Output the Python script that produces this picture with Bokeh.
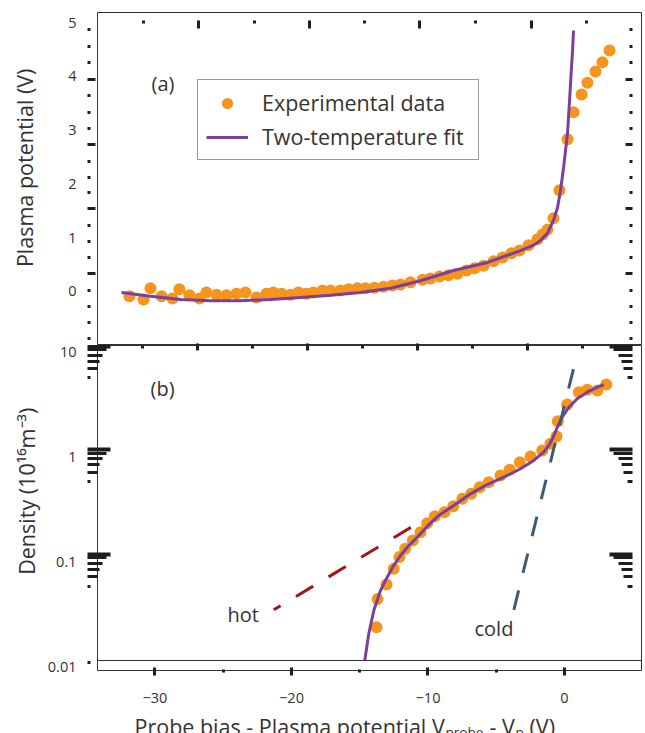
from bokeh.plotting import figure
from bokeh.layouts import column
from bokeh.models import (Range1d, LinearScale, LinearAxis, LogAxis, FixedTicker,
                          Legend, LegendItem, Label, Span, CustomJSTickFormatter)
from bokeh.core.properties import value
from bokeh.embed import file_html
from bokeh.resources import INLINE

FONT = "Open Sans"
ORANGE = "#F7941D"
PURPLE = "#7B3F9E"
HOT = "#A3151B"
COLD = "#3E5A74"
INK = "#1e1e1e"
TEXT = "#333333"
FRAME = "#333333"
TITLE_SIZE = "21.5px"
NBSP = "\u00a0"

# ---------------- data : panel (a)
exp_a_x = [-31.87, -30.84, -30.33, -29.52, -28.72, -28.21, -27.47, -26.74, -26.23, -25.49,
           -24.76, -24.03, -23.37, -22.56, -21.83, -21.32, -20.73, -20.07, -19.49, -18.90,
           -18.39, -17.73, -17.14, -16.41, -15.82, -15.16, -14.58, -13.92, -13.26, -12.60,
           -12.01, -11.28,
           -10.40, -9.82, -9.16, -8.50, -7.84, -7.18, -6.59, -5.93, -5.20, -4.54,
           -3.88, -3.30, -2.64, -1.98, -1.61, -1.25, -0.81, -0.37, 0.22, 0.66,
           1.25, 1.68, 2.27, 2.78, 3.30]
exp_a_y = [-0.09, -0.15, 0.06, -0.09, -0.13, 0.04, -0.07, -0.13, -0.02, -0.06,
           -0.07, -0.04, -0.02, -0.11, -0.04, -0.02, -0.04, -0.06, -0.02, -0.04,
           -0.02, 0.02, 0.02, 0.02, 0.04, 0.06, 0.06, 0.07, 0.09, 0.11,
           0.13, 0.17,
           0.22, 0.24, 0.28, 0.30, 0.33, 0.39, 0.43, 0.48, 0.56, 0.63,
           0.71, 0.76, 0.86, 0.97, 1.06, 1.15, 1.36, 1.88, 2.83, 3.33,
           3.66, 3.88, 4.09, 4.26, 4.48]
fit_a_x = [-32.45, -30.33, -28.13, -25.93, -23.74, -21.54, -19.34, -17.14, -14.95, -12.75,
           -10.55, -8.13, -5.64, -3.22, -2.27, -1.76, -1.25, -0.81, -0.51, -0.29,
           -0.07, 0.22, 0.37, 0.51, 0.59, 0.66]
fit_a_y = [-0.02, -0.09, -0.15, -0.17, -0.17, -0.15, -0.11, -0.07, -0.02, 0.06,
           0.20, 0.39, 0.54, 0.76, 0.86, 0.95, 1.08, 1.32, 1.56, 1.88,
           2.30, 2.94, 3.55, 4.16, 4.48, 4.85]

# ---------------- data : panel (b)
exp_b_x = [-13.77, -13.70, -13.04, -12.51, -12.09, -11.67, -11.11, -10.55, -10.06, -9.50,
           -8.79, -8.15, -7.49, -6.84, -6.21, -5.55, -4.69, -4.01, -3.27, -2.49,
           -1.63, -1.03, -0.59, -0.49, 0.20, 1.05, 1.66, 2.40, 3.06]
exp_b_y = [0.024, 0.0445, 0.0614, 0.0865, 0.112, 0.134, 0.161, 0.193, 0.235, 0.274,
           0.299, 0.341, 0.402, 0.448, 0.518, 0.578, 0.670, 0.759, 0.896, 1.016,
           1.159, 1.342, 1.575, 2.20, 3.18, 4.16, 4.38, 4.32, 4.92]
fit_b_x = [-14.63, -14.34, -13.97, -13.48, -12.99, -12.51, -12.01, -11.52, -10.79, -10.06,
           -9.21, -8.11, -6.89, -5.66, -4.45, -3.22, -2.25, -1.52, -1.15, -0.83,
           -0.53, -0.17, 0.32, 0.93, 1.66, 2.40, 2.88]
fit_b_y = [0.0116, 0.0208, 0.0347, 0.0537, 0.0720, 0.0930, 0.116, 0.139, 0.173, 0.219,
           0.279, 0.347, 0.448, 0.549, 0.645, 0.776, 0.931, 1.116, 1.292, 1.55,
           1.93, 2.40, 2.99, 3.60, 4.16, 4.64, 4.92]
hot_x = [-21.30, -11.23]
hot_y = [0.0352, 0.2154]
cold_x = [-3.71, 0.81]
cold_y = [0.0352, 8.34]

x_ticks = [-30, -20, -10, 0]
x_minor = [-25, -15, -5]
ya_ticks = [0, 1, 2, 3, 4, 5]
yb_ticks = [0.01, 0.1, 1, 10]

# x-axis title pieces; subscripts are smaller and lower
title_parts = ["Probe bias - Plasma potential V", "probe", "- V", "p", "(V)"]

# ---------------- layout (pixels)
X_RANGE = (-34.21, 5.64)
YA_RANGE = (-1.004, 5.186)
YB_RANGE = (0.009302, 11.585)
FRAME_W, FA_H, FB_H = 544, 333, 325
BORDER_BOTTOM_B = 11.585 * 10 ** (-(660 - 345) / 105.0)   # visual bottom edge of box (b)


def px_x(px):
    return X_RANGE[0] + (px - 97) * (X_RANGE[1] - X_RANGE[0]) / FRAME_W


def px_yb(py):
    return 10 ** (1 - (py - 351.7) / 105.0)


def deco(fig, side, rng, ticks, t_out, t_in, lw=3):
    kw = dict(y_range_name=rng) if side in ("left", "right") else dict(x_range_name=rng)
    ax = LinearAxis(ticker=FixedTicker(ticks=ticks, minor_ticks=[]), **kw)
    ax.axis_line_color = None
    ax.major_tick_out = t_out
    ax.major_tick_in = t_in
    ax.minor_tick_out = 0
    ax.minor_tick_in = 0
    ax.major_tick_line_width = lw
    ax.major_tick_line_color = INK
    ax.minor_tick_line_color = None
    ax.major_label_text_color = None
    ax.major_label_text_font_size = "0px"
    ax.major_label_standoff = 0
    ax.formatter = CustomJSTickFormatter(code="return ''")
    fig.add_layout(ax, side)
    return ax


def base(fig, xh, yh):
    fig.extra_x_ranges = {"dx": Range1d(0, xh)}
    fig.extra_y_ranges = {"dy": Range1d(0, yh)}
    fig.extra_x_scales = {"dx": LinearScale()}
    fig.extra_y_scales = {"dy": LinearScale()}
    fig.xgrid.grid_line_color = None
    fig.ygrid.grid_line_color = None
    fig.outline_line_color = FRAME
    fig.outline_line_width = 1
    fig.background_fill_color = "white"
    fig.border_fill_color = "white"


def label_axis(ax, title, standoff):
    ax.axis_line_color = None
    ax.major_tick_line_color = None
    ax.minor_tick_line_color = None
    ax.major_tick_out = 0
    ax.major_tick_in = 0
    ax.minor_tick_out = 0
    ax.minor_tick_in = 0
    ax.major_label_standoff = 11
    ax.major_label_text_font = FONT
    ax.major_label_text_font_size = "14.5px"
    ax.major_label_text_color = TEXT
    ax.axis_label = title
    ax.axis_label_text_font = FONT
    ax.axis_label_text_font_size = TITLE_SIZE
    ax.axis_label_text_font_style = "normal"
    ax.axis_label_text_color = TEXT
    ax.axis_label_standoff = standoff


# ================= panel (a)
pa = figure(width=645, height=345, x_range=Range1d(*X_RANGE), y_range=Range1d(*YA_RANGE),
            x_axis_location=None, y_axis_location=None, toolbar_location=None,
            output_backend="svg", min_border_left=97, min_border_right=4,
            min_border_top=12, min_border_bottom=0)
base(pa, FRAME_W, FA_H)

side_major_a = [345 - v for v in (273, 208, 144, 79)]
side_minor_a = [345 - v for v in (338, 322, 306, 290, 257, 241, 225, 192, 177, 161,
                                  128, 112, 95, 62, 46, 29)]
top_major = [v - 97 for v in (198, 309, 419, 531)]
top_minor = [v - 97 for v in (143, 254, 364, 475, 586)]
mid_major = [v - 97 for v in (197, 307, 417, 527)]
mid_minor = [v - 97 for v in (142, 252, 362, 472, 582)]

deco(pa, "left", "dy", side_major_a, 10, -2)
deco(pa, "left", "dy", side_minor_a, 0, 3)
la = LinearAxis(ticker=FixedTicker(ticks=ya_ticks, minor_ticks=[]))
label_axis(la, NBSP * 4 + "Plasma potential (V)", 26)
pa.add_layout(la, "left")

deco(pa, "right", "dy", side_major_a, -9, 16)
deco(pa, "right", "dy", side_minor_a, -9, 12)
deco(pa, "above", "dx", top_major, -8, 16)
deco(pa, "above", "dx", top_minor, -8, 11)
deco(pa, "below", "dx", mid_major, 0, 2)

pts_a = pa.scatter(exp_a_x, exp_a_y, size=12, fill_color=ORANGE, line_color=None)
fit_a = pa.line(fit_a_x, fit_a_y, line_color=PURPLE, line_width=3)

legend = Legend(items=[LegendItem(label="Experimental data", renderers=[pts_a]),
                       LegendItem(label="Two-temperature fit", renderers=[fit_a])],
                location=(100, 185), orientation="vertical",
                label_text_font=FONT, label_text_font_size=TITLE_SIZE, label_text_color=TEXT,
                glyph_width=42, glyph_height=28, label_height=28, label_width=208,
                label_standoff=14, spacing=5, padding=8, margin=0,
                border_line_color=FRAME, border_line_width=1,
                background_fill_color="white", background_fill_alpha=1.0)
pa.add_layout(legend, "center")
pa.add_layout(Label(x=px_x(151), y=(291 - 83) / 53.8, text="(a)", text_font=FONT,
                    text_font_size="20px", text_color=TEXT, text_baseline="middle"))

# ================= panel (b)
pb = figure(width=645, height=365, x_range=pa.x_range, y_range=Range1d(*YB_RANGE),
            y_axis_type="log", x_axis_location=None, y_axis_location=None,
            toolbar_location=None, output_backend="svg", min_border_left=97,
            min_border_right=4, min_border_top=0, min_border_bottom=40)
base(pb, FRAME_W, FB_H)

group_tops = (345.5, 449.3, 554)
level_off = (0, 3.3, 9, 15, 22.4, 31.7)
len_right = (23, 19, 14, 11, 9, 5)
len_left = (23, 19, 15, 12, 10)


def level_ticks(k):
    return [670 - (t + level_off[k]) for t in group_tops]


# left: dots (first, reserves 10 px), then bars, then labels
deco(pb, "left", "dy", level_ticks(5) + [670 - 662], 10, -7)
for k, L in enumerate(len_left):
    deco(pb, "left", "dy", level_ticks(k), 0, L, 4 if k == 0 else 3)
lb = LogAxis(ticker=FixedTicker(ticks=yb_ticks, minor_ticks=[]),
             formatter=CustomJSTickFormatter(code="return tick.toString()"))
label_axis(lb, NBSP * 6 + "Density (10\u00b9\u2076m\u207b\u00b3)", 4)
pb.add_layout(lb, "left")

for k, L in enumerate(len_right):
    deco(pb, "right", "dy", level_ticks(k), -9, 9 + L, 4 if k == 0 else 3)
deco(pb, "above", "dx", mid_major, 0, 5)
deco(pb, "above", "dx", mid_minor, 0, 3)

bx = LinearAxis(ticker=FixedTicker(ticks=x_ticks, minor_ticks=x_minor))
bx.axis_line_color = FRAME
bx.major_tick_line_color = INK
bx.minor_tick_line_color = INK
bx.major_tick_in = 3
bx.major_tick_out = 5
bx.minor_tick_in = 1
bx.minor_tick_out = 2
bx.major_tick_line_width = 3
bx.minor_tick_line_width = 3
bx.major_label_standoff = 17
bx.major_label_text_font = FONT
bx.major_label_text_font_size = "14.5px"
bx.major_label_text_color = TEXT
pb.add_layout(bx, "below")

pb.add_layout(Span(location=BORDER_BOTTOM_B, dimension="width", line_color=FRAME, line_width=1))

pb.scatter(exp_b_x, exp_b_y, size=12, fill_color=ORANGE, line_color=None)
pb.line(fit_b_x, fit_b_y, line_color=PURPLE, line_width=3)
pb.line(hot_x, hot_y, line_color=HOT, line_width=3, line_dash="20 18", line_dash_offset=12)
pb.line(cold_x, cold_y, line_color=COLD, line_width=3, line_dash="20 18")


def txt(x, y, s, size="20px", baseline="middle"):
    pb.add_layout(Label(x=x, y=y, text=s, text_font=FONT, text_font_size=size,
                        text_color=TEXT, text_baseline=baseline, text_align="left"))


txt(px_x(150), px_yb(388), "(b)")
txt(px_x(227), px_yb(614), "hot")
txt(px_x(474), px_yb(628), "cold")

# ================= x-axis title strip (text glyphs in their own frame)
pt = figure(width=645, height=23, x_range=pa.x_range, y_range=Range1d(0, 23),
            x_axis_location=None, y_axis_location=None, toolbar_location=None,
            output_backend="svg", min_border_left=97, min_border_right=4,
            min_border_top=0, min_border_bottom=0)
pt.xgrid.grid_line_color = None
pt.ygrid.grid_line_color = None
pt.outline_line_color = None
pt.background_fill_color = "white"
pt.border_fill_color = "white"

title_px = [134, 445, 489, 515, 529]
title_base = [7, 2, 7, 2, 7]
title_size = [TITLE_SIZE, "13.5px", TITLE_SIZE, "13.5px", TITLE_SIZE]
for s, px, yb, fs in zip(title_parts, title_px, title_base, title_size):
    pt.text(x=[px_x(px)], y=[yb], text=[s], text_font=value(FONT),
            text_font_size=value(fs), text_color=TEXT,
            text_baseline="alphabetic", text_align="left")

layout = column(pa, pb, pt, spacing=0)
open("out.html", "w").write(file_html(layout, INLINE))
